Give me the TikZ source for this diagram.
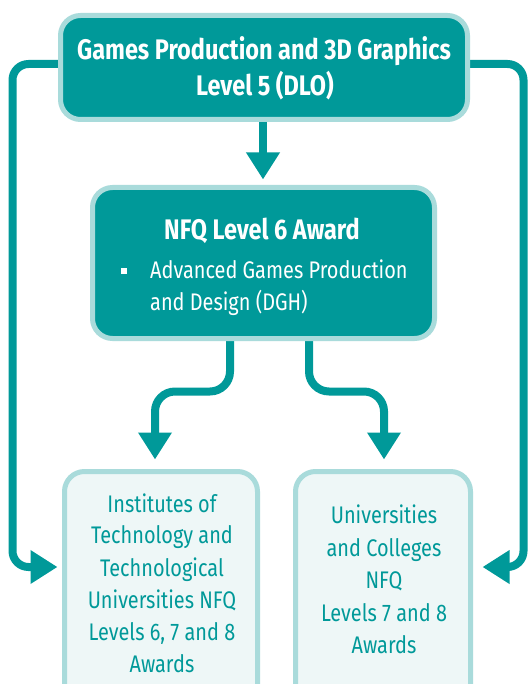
\documentclass[tikz,border=0pt]{standalone}
\usepackage{fontspec}
\newfontfamily\cf[FakeStretch=0.83]{Fira Sans}
\usetikzlibrary{arrows.meta,backgrounds}
\definecolor{teal1}{HTML}{009999}
\definecolor{edge1}{HTML}{A9DBDB}
\definecolor{pale1}{HTML}{EEF7F7}
\begin{document}
\begin{tikzpicture}[x=1pt,y=-1pt,
  darkbox/.style={draw=edge1,fill=teal1,line width=5pt,rounded corners=20pt,inner sep=0pt},
  palebox/.style={draw=edge1,fill=pale1,line width=5pt,rounded corners=20pt,inner sep=0pt},
  flow/.style={draw=teal1,line width=8pt,-{Triangle[width=32pt,length=27pt]}},
  loopflow/.style={flow,rounded corners=16pt},
  bendflow/.style={flow,rounded corners=20pt},
  titletext/.style={text=white,font=\cf\bfseries\fontsize{28.3}{33}\selectfont,anchor=base,inner sep=0pt},
  bullettext/.style={text=white,font=\cf\fontsize{24}{28}\selectfont,anchor=base west,inner sep=0pt},
  paletext/.style={text=teal1,font=\cf\fontsize{24}{29}\selectfont,anchor=base,inner sep=0pt}
]
\clip (0,0) rectangle (531,684);
% boxes
\node[darkbox,minimum width=407pt,minimum height=104pt] (top) at (264,67.5) {};
\node[darkbox,minimum width=342pt,minimum height=151pt] (mid) at (263.5,263) {};
\node[palebox,minimum width=193pt,minimum height=240pt] (itu) at (161,591.5) {};
\node[palebox,minimum width=175pt,minimum height=240pt] (uni) at (383,591.5) {};
% texts
\node[titletext] (t1) at (264,60) {Games Production and 3D Graphics};
\node[titletext] (t2) at (265,96) {Level 5 (DLO)};
\node[titletext] (m1) at (262,240) {NFQ Level 6 Award};
\node[fill=white,minimum size=5.5pt,inner sep=0pt] (bul) at (124,271) {};
\node[bullettext] (m2) at (150,278) {Advanced Games Production};
\node[bullettext] (m3) at (150,310) {and Design (DGH)};
\node[paletext] (i1) at (162,512) {Institutes of};
\node[paletext] (i2) at (162,543.5) {Technology and};
\node[paletext] (i3) at (162,576) {Technological};
\node[paletext] (i4) at (162,608) {Universities NFQ};
\node[paletext] (i5) at (162,640) {Levels 6, 7 and 8};
\node[paletext] (i6) at (162,672) {Awards};
\node[paletext] (u1) at (384,523) {Universities};
\node[paletext] (u2) at (384,556) {and Colleges};
\node[paletext] (u3) at (384,588) {NFQ};
\node[paletext] (u4) at (384,621) {Levels 7 and 8};
\node[paletext] (u5) at (384,653) {Awards};
% connectors
\begin{scope}[on background layer]
\fill[white] (0,0) rectangle (531,684);
\draw[flow] ([xshift=-1pt]top.south) -- ([xshift=-1pt,yshift=5.5pt]top.south |- mid.north);
\draw[loopflow] ([yshift=3.5pt]top.west) -- ++(-45.5,0) |- ([xshift=-4.5pt,yshift=24.5pt]itu.west);
\draw[loopflow] ([yshift=3.5pt]top.east) -- ++(53.5,0) |- ([xshift=9.5pt,yshift=24.5pt]uni.east);
\draw[bendflow] ([xshift=-33.5pt]mid.south) -- ([xshift=-33.5pt,yshift=-50.5pt]mid.south) -| ([xshift=-6pt,yshift=9.5pt]itu.north);
\draw[bendflow] ([xshift=45.5pt]mid.south) -- ([xshift=45.5pt,yshift=-50.5pt]mid.south) -| ([xshift=1pt,yshift=9.5pt]uni.north);
\end{scope}
\end{tikzpicture}
\end{document}
